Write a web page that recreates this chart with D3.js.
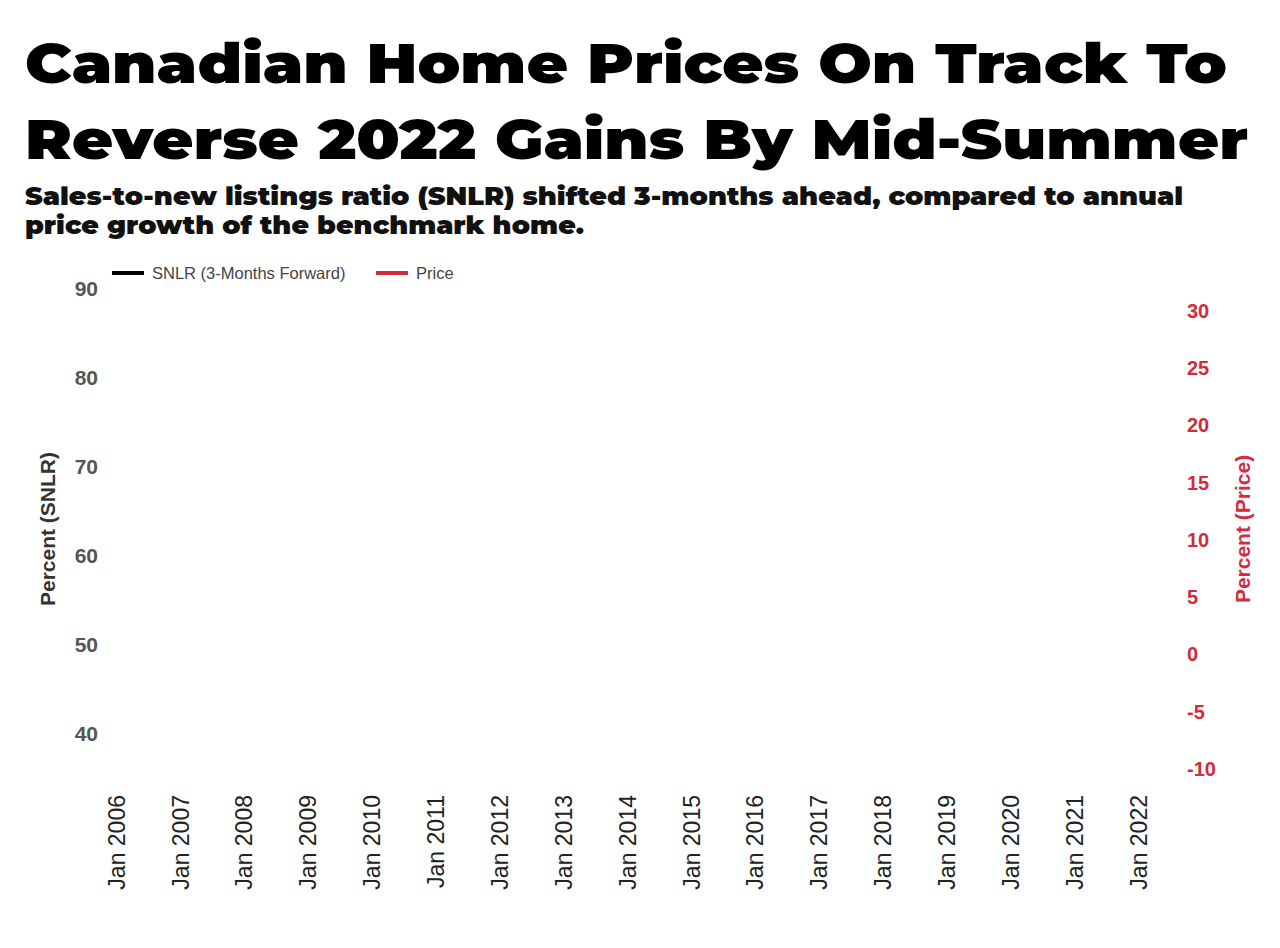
<!DOCTYPE html>
<html lang="en">
<head>
<meta charset="UTF-8">
<title>Canadian Home Prices</title>
<script src="https://cdn.jsdelivr.net/npm/d3@7"></script>
<style>
  body { margin: 0; background: #fff; }
  svg { display: block; }
</style>
</head>
<body>
<script>

var width = 1280,
    height = 948

var red = "#d42a3c"

// chart data (the frame shows axes and legend only)
var years = ["2006-01", "2007-01", "2008-01", "2009-01", "2010-01", "2011-01", "2012-01", "2013-01",
             "2014-01", "2015-01", "2016-01", "2017-01", "2018-01", "2019-01", "2020-01", "2021-01", "2022-01"]
var snlrTicks = [40, 50, 60, 70, 80, 90]
var priceTicks = [-10, -5, 0, 5, 10, 15, 20, 25, 30]
var seriesNames = ["SNLR (3-Months Forward)", "Price"]
var seriesColors = ["#000", red]

var titleLines = ["Canadian Home Prices On Track To", "Reverse 2022 Gains By Mid-Summer"]
var subLines = ["Sales-to-new listings ratio (SNLR) shifted 3-months ahead, compared to annual",
                "price growth of the benchmark home."]

var parse = d3.timeParse("%Y-%m")
var dates = years.map(parse)

var svg = d3.select("body").append("svg")
    .attr("width", width)
    .attr("height", height)

// titles
var titleFont = "Montserrat, Inter, 'Noto Sans', sans-serif"
svg.selectAll(".title").data(titleLines).enter()
    .append("text")
    .attr("class", "title")
    .attr("x", 25)
    .attr("y", function(d, i) { return 83 + i * 76 })
    .attr("textLength", function(d, i) { return i == 0 ? 1202 : 1223 })
    .attr("lengthAdjust", "spacingAndGlyphs")
    .style("font-family", titleFont)
    .style("font-weight", 900)
    .style("font-size", "55px")
    .style("fill", "#000")
    .text(function(d) { return d })

svg.selectAll(".sub").data(subLines).enter()
    .append("text")
    .attr("class", "sub")
    .attr("x", 25)
    .attr("y", function(d, i) { return 205 + i * 29 })
    .attr("textLength", function(d, i) { return i == 0 ? 1158 : 559 })
    .attr("lengthAdjust", "spacingAndGlyphs")
    .style("font-family", titleFont)
    .style("font-weight", 900)
    .style("font-size", "24px")
    .style("fill", "#111")
    .text(function(d) { return d })

// scales
var x = d3.scaleTime()
    .domain([dates[0], dates[dates.length - 1]])
    .range([116, 1138])

var yLeft = d3.scaleLinear().domain([40, 90]).range([734, 289])
var yRight = d3.scaleLinear().domain([-10, 30]).range([769, 311])

var axisFont = "'Liberation Sans', Arial, sans-serif"

// x axis
var xAxis = svg.append("g")
    .attr("transform", "translate(0,787)")
    .call(d3.axisBottom(x).tickValues(dates).tickFormat(d3.timeFormat("%b %Y")).tickSize(0))
xAxis.select(".domain").remove()
xAxis.selectAll("text")
    .attr("transform", "rotate(-90)")
    .attr("x", -8)
    .attr("y", 0)
    .attr("dy", "0.36em")
    .style("text-anchor", "end")
    .style("font-family", axisFont)
    .style("font-size", "23px")
    .style("fill", "#222")

// left axis
var leftAxis = svg.append("g")
    .attr("transform", "translate(98,0)")
    .call(d3.axisLeft(yLeft).tickValues(snlrTicks).tickSize(0).tickPadding(0))
leftAxis.select(".domain").remove()
leftAxis.selectAll("text")
    .style("font-family", axisFont)
    .style("font-weight", "bold")
    .style("font-size", "21px")
    .style("fill", "#555")

// right axis, plain hyphen for negatives as in the source
var rightAxis = svg.append("g")
    .attr("transform", "translate(1187,0)")
    .call(d3.axisRight(yRight).tickValues(priceTicks).tickSize(0).tickPadding(0)
        .tickFormat(function(d) { return String(d) }))
rightAxis.select(".domain").remove()
rightAxis.selectAll("text")
    .style("font-family", axisFont)
    .style("font-weight", "bold")
    .style("font-size", "20px")
    .style("fill", red)

// axis titles
svg.append("text")
    .attr("transform", "translate(47,529) rotate(-90)")
    .attr("dy", "0.36em")
    .style("text-anchor", "middle")
    .style("font-family", axisFont)
    .style("font-weight", "bold")
    .style("font-size", "21px")
    .style("fill", "#333")
    .text("Percent (SNLR)")

svg.append("text")
    .attr("transform", "translate(1242,529) rotate(-90)")
    .attr("dy", "0.36em")
    .style("text-anchor", "middle")
    .style("font-family", axisFont)
    .style("font-weight", "bold")
    .style("font-size", "21px")
    .style("fill", red)
    .text("Percent (Price)")

// legend
var legendX = [112, 376]
var legend = svg.selectAll(".legend").data(seriesNames).enter()
    .append("g")
    .attr("class", "legend")
    .attr("transform", function(d, i) { return "translate(" + legendX[i] + ",273)" })

legend.append("line")
    .attr("x1", 0).attr("x2", 32)
    .style("stroke", function(d, i) { return seriesColors[i] })
    .style("stroke-width", 4)

legend.append("text")
    .attr("x", 40)
    .attr("dy", "0.35em")
    .style("font-family", axisFont)
    .style("font-size", "16.5px")
    .style("fill", "#444")
    .text(function(d) { return d })

</script>
</body>
</html>
